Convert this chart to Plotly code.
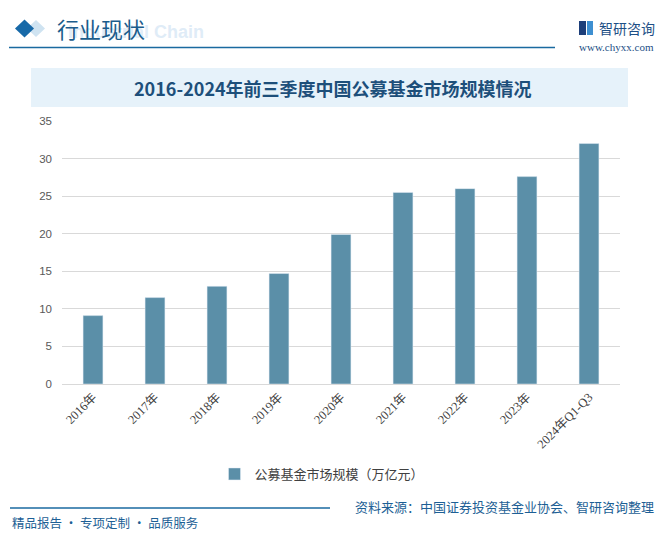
import plotly.graph_objects as go

# data
years = ["2016年", "2017年", "2018年", "2019年", "2020年", "2021年", "2022年", "2023年", "2024年Q1-Q3"]
scale = [9.1, 11.5, 13.0, 14.7, 19.9, 25.5, 26.0, 27.6, 32.0]
y_ticks = [0, 5, 10, 15, 20, 25, 30, 35]

series_name = "公募基金市场规模（万亿元）"
chart_title = "2016-2024年前三季度中国公募基金市场规模情况"
source_text = "资料来源：中国证券投资基金业协会、智研咨询整理"
slogan = "精品报告 · 专项定制 · 品质服务"

W, H = 663, 542
L, R, T, B = 62, 620, 121, 384  # plot area in page pixels
OFF = 8  # the page body margin shifts the figure by this much

BAR = "#5b8fa8"
DARK = "#1b5c8c"
LINE = "#1a6aa0"
SANS = "Noto Sans CJK SC, Noto Sans, sans-serif"
SERIF = "Liberation Serif, Noto Sans CJK SC, serif"


def px(x):
    return (x - L) / (R - L)


def py(y):
    return (B - y) / (B - T)


fig = go.Figure(
    go.Bar(
        x=years,
        y=scale,
        name=series_name,
        marker={"color": BAR},
        width=0.32,
        showlegend=True,
    )
)

shapes = [
    # header diamonds
    dict(type="path", xref="paper", yref="paper", line={"width": 0}, fillcolor="#cfe3f1",
         path=f"M {px(27)} {py(28.5)} L {px(36)} {py(20)} L {px(45)} {py(28.5)} L {px(36)} {py(37)} Z"),
    dict(type="path", xref="paper", yref="paper", line={"width": 0}, fillcolor="#1769a8",
         path=f"M {px(15)} {py(28.5)} L {px(24.5)} {py(19.5)} L {px(34)} {py(28.5)} L {px(24.5)} {py(37.5)} Z"),
    # header rule
    dict(type="line", xref="paper", yref="paper", x0=px(9), x1=px(555), y0=py(47.5), y1=py(47.5),
         line={"color": LINE, "width": 1.5}),
    # logo icon
    dict(type="rect", xref="paper", yref="paper", x0=px(579), x1=px(586), y0=py(21), y1=py(35),
         line={"width": 0}, fillcolor="#1d3f7a"),
    dict(type="rect", xref="paper", yref="paper", x0=px(587), x1=px(593), y0=py(21), y1=py(35),
         line={"width": 0}, fillcolor="#3d8fd1"),
    # title banner
    dict(type="rect", xref="paper", yref="paper", x0=px(31), x1=px(628), y0=py(68), y1=py(107),
         line={"width": 0}, fillcolor="#e6f2fa", layer="below"),
    # footer rule
    dict(type="line", xref="paper", yref="paper", x0=px(10), x1=px(330), y0=py(508), y1=py(508),
         line={"color": LINE, "width": 1.5}),
]

annotations = [
    dict(text="<b>Industrial Chain</b>", x=px(66), y=py(32), xanchor="left", yanchor="middle",
         font={"family": "Liberation Sans, Arial, sans-serif", "size": 18, "color": "#dfecf7"},
         showarrow=False),
    dict(text="行业现状", x=px(55), y=py(28), xanchor="left", yanchor="middle",
         font={"family": SANS, "size": 22, "color": DARK}, showarrow=False),
    dict(text="智研咨询", x=px(597), y=py(28), xanchor="left", yanchor="middle",
         font={"family": SANS, "size": 14, "color": "#1d4f86"}, showarrow=False),
    dict(text="www.chyxx.com", x=px(656), y=py(47), xanchor="right", yanchor="middle",
         font={"family": SERIF, "size": 11, "color": "#1d4f86"}, showarrow=False),
    dict(text=f"<b>{chart_title}</b>", x=px(333), y=py(88), xanchor="center", yanchor="middle",
         font={"family": SANS, "size": 18, "color": "#1d4f7a"}, showarrow=False),
    dict(text=source_text, x=px(656), y=py(507), xanchor="right", yanchor="middle",
         font={"family": SANS, "size": 13, "color": "#1d5f95"}, showarrow=False),
    dict(text=slogan, x=px(10), y=py(522), xanchor="left", yanchor="middle",
         font={"family": SANS, "size": 12.5, "color": "#1d5f95"}, showarrow=False),
]
for a in annotations:
    a.update(xref="paper", yref="paper")

fig.update_layout(
    width=W - OFF,
    height=H - OFF,
    margin={"l": L - OFF, "r": W - R, "t": T - OFF, "b": H - B, "pad": 0},
    plot_bgcolor="white",
    paper_bgcolor="white",
    shapes=shapes,
    annotations=annotations,
    legend={
        "orientation": "h",
        "x": px(322),
        "y": py(474),
        "xanchor": "center",
        "yanchor": "middle",
        "font": {"family": SANS, "size": 13, "color": "#404040"},
        "itemwidth": 30,
    },
)

fig.update_xaxes(
    tickangle=-45,
    tickfont={"family": SERIF, "size": 12.5, "color": "#404040"},
    showline=True,
    linecolor="#d9d9d9",
    ticks="",
)

fig.update_yaxes(
    range=[0, 35],
    tickvals=y_ticks,
    tickfont={"family": "Liberation Sans, sans-serif", "size": 11.5, "color": "#595959"},
    gridcolor="#d9d9d9",
    zeroline=False,
    ticklabelstandoff=9,
)

fig.write_html("out.html")
